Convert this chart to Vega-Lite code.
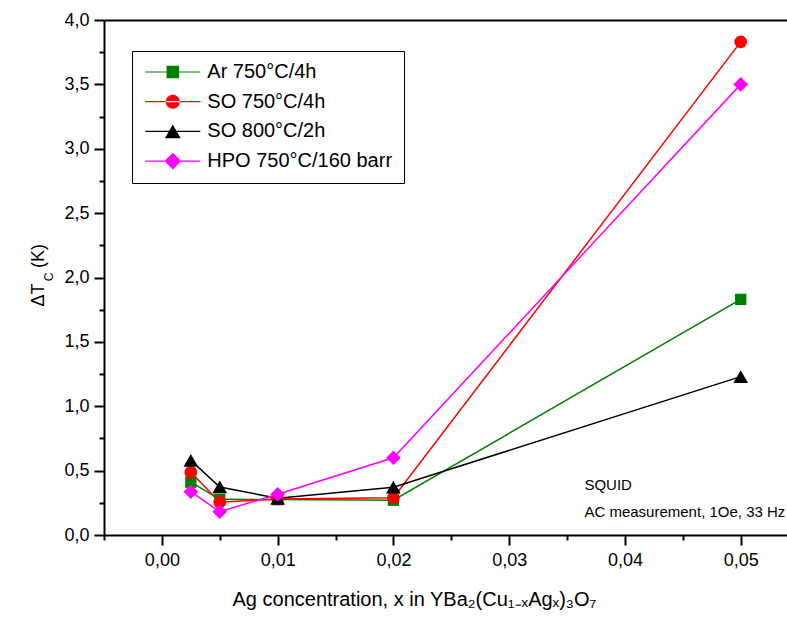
{
  "$schema": "https://vega.github.io/schema/vega-lite/v6.json",
  "width": 683,
  "height": 515,
  "autosize": {"type": "none"},
  "padding": {"left": 104, "top": 20, "right": 0, "bottom": 83},
  "background": "white",
  "config": {
    "font": "Liberation Sans",
    "view": {"stroke": null},
    "axis": {
      "grid": false,
      "labelFont": "Liberation Sans",
      "titleFont": "Liberation Sans",
      "labelFontSize": 18,
      "labelColor": "black",
      "titleColor": "black",
      "titleFontWeight": "normal",
      "domainColor": "black",
      "domainWidth": 2,
      "tickColor": "black",
      "tickWidth": 2
    },
    "legend": {
      "orient": "none", "legendX": 28, "legendY": 31,
      "strokeColor": "black", "fillColor": "white", "padding": 11,
      "labelFontSize": 20, "labelFont": "Liberation Sans", "labelColor": "black", "labelLimit": 0,
      "symbolSize": 400, "symbolOffset": 19.8, "labelOffset": 24.5, "rowPadding": 9.7,
      "symbolStrokeWidth": 0, "symbolOpacity": 1
    }
  },
  "data": {
    "values": [
      {"series": "Ar 750°C/4h", "x": 0.0025, "y": 0.41},
      {"series": "Ar 750°C/4h", "x": 0.005, "y": 0.277},
      {"series": "Ar 750°C/4h", "x": 0.01, "y": 0.275},
      {"series": "Ar 750°C/4h", "x": 0.02, "y": 0.27},
      {"series": "Ar 750°C/4h", "x": 0.05, "y": 1.83},
      {"series": "SO 750°C/4h", "x": 0.0025, "y": 0.487},
      {"series": "SO 750°C/4h", "x": 0.005, "y": 0.254},
      {"series": "SO 750°C/4h", "x": 0.01, "y": 0.28},
      {"series": "SO 750°C/4h", "x": 0.02, "y": 0.29},
      {"series": "SO 750°C/4h", "x": 0.05, "y": 3.83},
      {"series": "SO 800°C/2h", "x": 0.0025, "y": 0.58},
      {"series": "SO 800°C/2h", "x": 0.005, "y": 0.373},
      {"series": "SO 800°C/2h", "x": 0.01, "y": 0.285},
      {"series": "SO 800°C/2h", "x": 0.02, "y": 0.371},
      {"series": "SO 800°C/2h", "x": 0.05, "y": 1.23},
      {"series": "HPO 750°C/160 barr", "x": 0.0025, "y": 0.336},
      {"series": "HPO 750°C/160 barr", "x": 0.005, "y": 0.181},
      {"series": "HPO 750°C/160 barr", "x": 0.01, "y": 0.316},
      {"series": "HPO 750°C/160 barr", "x": 0.02, "y": 0.6},
      {"series": "HPO 750°C/160 barr", "x": 0.05, "y": 3.5}
    ]
  },
  "resolve": {"axis": {"x": "independent", "y": "independent"}},
  "layer": [
    {
      "mark": {"type": "line", "strokeWidth": 1.5},
      "encoding": {
        "x": {
          "field": "x", "type": "quantitative",
          "scale": {"domain": [-0.005, 0.054], "nice": false, "zero": false},
          "axis": {
            "orient": "bottom",
            "values": [0, 0.01, 0.02, 0.03, 0.04, 0.05],
            "tickSize": 10,
            "labelPadding": 6,
            "labelFlush": false,
            "labelExpr": "replace(format(datum.value, '.2f'), '.', ',')",
            "title": "Ag concentration, x in YBa₂(Cu₁₋ₓAgₓ)₃O₇",
            "titleFontSize": 20,
            "titleAlign": "left",
            "titleAnchor": "start",
            "titleBaseline": "alphabetic",
            "titleX": 128,
            "titleY": 70
          }
        },
        "y": {
          "field": "y", "type": "quantitative",
          "scale": {"domain": [0, 4], "nice": false},
          "axis": {
            "orient": "left",
            "values": [0, 0.5, 1, 1.5, 2, 2.5, 3, 3.5, 4],
            "tickSize": 10,
            "labelPadding": 5,
            "labelFlush": false,
            "labelExpr": "replace(format(datum.value, '.1f'), '.', ',')",
            "title": "ΔT",
            "titleFontSize": 18,
            "titleAngle": -90,
            "titleAlign": "center",
            "titleBaseline": "alphabetic",
            "titleX": -61,
            "titleY": 274.5
          }
        },
        "color": {
          "field": "series", "type": "nominal",
          "scale": {
            "domain": ["Ar 750°C/4h", "SO 750°C/4h", "SO 800°C/2h", "HPO 750°C/160 barr"],
            "range": ["#008000", "#ff0000", "#000000", "#ff00ff"]
          },
          "legend": {"title": null}
        }
      }
    },
    {
      "mark": {"type": "point", "filled": true, "opacity": 0},
      "encoding": {
        "x": {
          "field": "x", "type": "quantitative",
          "scale": {"domain": [-0.005, 0.054], "nice": false, "zero": false},
          "axis": null
        },
        "y": {
          "field": "y", "type": "quantitative",
          "scale": {"domain": [0, 4], "nice": false},
          "axis": null
        },
        "color": {
          "field": "series", "type": "nominal",
          "scale": {
            "domain": ["Ar 750°C/4h", "SO 750°C/4h", "SO 800°C/2h", "HPO 750°C/160 barr"],
            "range": ["#008000", "#ff0000", "#000000", "#ff00ff"]
          },
          "legend": {"title": null}
        },
        "shape": {
          "field": "series", "type": "nominal",
          "scale": {
            "domain": ["Ar 750°C/4h", "SO 750°C/4h", "SO 800°C/2h", "HPO 750°C/160 barr"],
            "range": [
              "M-2.75,-0.06H2.75V0.06H-2.75Z M-0.63,-0.63H0.63V0.63H-0.63Z",
              "M-2.75,-0.06H2.75V0.06H-2.75Z M-0.7,0A0.7,0.7,0,1,0,0.7,0A0.7,0.7,0,1,0,-0.7,0Z",
              "M-2.75,-0.06H2.75V0.06H-2.75Z M0,-0.68L0.785,0.68L-0.785,0.68Z",
              "M-2.75,-0.06H2.75V0.06H-2.75Z M-0.83,0L0,-0.83L0.83,0L0,0.83Z"
            ]
          },
          "legend": {"title": null}
        }
      }
    },
    {
      "mark": {"type": "point", "filled": true, "opacity": 1},
      "encoding": {
        "x": {
          "field": "x", "type": "quantitative",
          "scale": {"domain": [-0.005, 0.054], "nice": false, "zero": false},
          "axis": {
            "orient": "bottom",
            "values": [-0.005, 0.005, 0.015, 0.025, 0.035, 0.045],
            "tickSize": 5,
            "labels": false,
            "domain": false,
            "title": null
          }
        },
        "y": {
          "field": "y", "type": "quantitative",
          "scale": {"domain": [0, 4], "nice": false},
          "axis": {
            "orient": "left",
            "values": [0.25, 0.75, 1.25, 1.75, 2.25, 2.75, 3.25, 3.75],
            "tickSize": 5,
            "labels": false,
            "domain": false,
            "title": "C",
            "titleFontSize": 12,
            "titleAngle": -90,
            "titleAlign": "center",
            "titleBaseline": "alphabetic",
            "titleX": -52,
            "titleY": 256.5
          }
        },
        "color": {
          "condition": [
            {"test": "datum.series === 'Ar 750°C/4h'", "value": "#008000"},
            {"test": "datum.series === 'SO 750°C/4h'", "value": "#ff0000"},
            {"test": "datum.series === 'SO 800°C/2h'", "value": "#000000"}
          ],
          "value": "#ff00ff"
        },
        "shape": {
          "condition": [
            {"test": "datum.series === 'Ar 750°C/4h'", "value": "square"},
            {"test": "datum.series === 'SO 750°C/4h'", "value": "circle"},
            {"test": "datum.series === 'SO 800°C/2h'", "value": "triangle-up"}
          ],
          "value": "diamond"
        },
        "size": {
          "condition": [
            {"test": "datum.series === 'Ar 750°C/4h'", "value": 128},
            {"test": "datum.series === 'SO 750°C/4h'", "value": 161}
          ],
          "value": 216
        }
      }
    },
    {
      "data": {"values": [{}]},
      "mark": {
        "type": "text",
        "text": ["SQUID", "AC measurement, 1Oe, 33 Hz"],
        "align": "left",
        "baseline": "alphabetic",
        "fontSize": 15,
        "lineHeight": 27,
        "font": "Liberation Sans",
        "color": "black"
      },
      "encoding": {
        "x": {
          "datum": 0.0365, "type": "quantitative",
          "scale": {"domain": [-0.005, 0.054], "nice": false, "zero": false},
          "axis": {"orient": "top", "ticks": false, "labels": false, "domain": true, "title": null}
        },
        "y": {
          "datum": 0.35, "type": "quantitative",
          "scale": {"domain": [0, 4], "nice": false},
          "axis": {
            "orient": "left",
            "ticks": false,
            "labels": false,
            "domain": false,
            "title": "(K)",
            "titleFontSize": 18,
            "titleAngle": -90,
            "titleAlign": "center",
            "titleBaseline": "alphabetic",
            "titleX": -61,
            "titleY": 235.6
          }
        }
      }
    }
  ]
}
